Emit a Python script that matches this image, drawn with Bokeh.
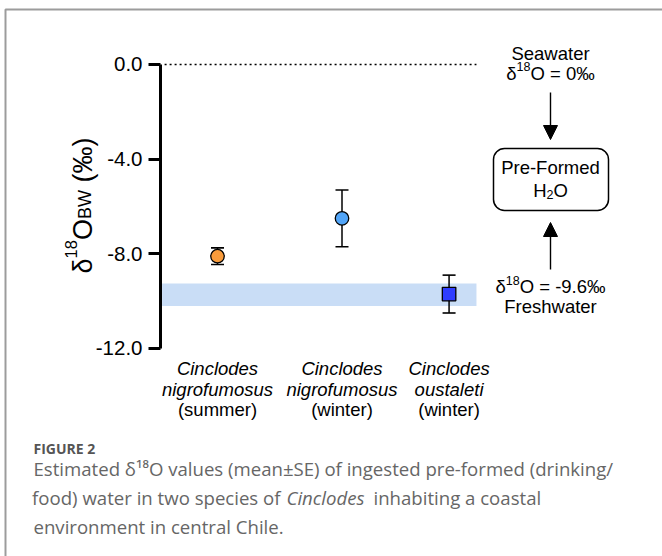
import math
from bokeh.plotting import figure
from bokeh.models import (Range1d, FixedTicker, PrintfTickFormatter, Label,
                          BoxAnnotation, Arrow, NormalHead, ColumnDataSource)
from bokeh.core.properties import value
from bokeh.embed import file_html
from bokeh.resources import INLINE

# ---------------- data ----------------
genus = ["Cinclodes", "Cinclodes", "Cinclodes"]
species = ["nigrofumosus", "nigrofumosus", "oustaleti"]
season = ["(summer)", "(winter)", "(winter)"]
x_pos = [1.0, 2.0, 2.86]
mean = [-8.1, -6.5, -9.7]
se = [0.35, 1.2, 0.8]
markers = ["circle", "circle", "square"]
colors = ["#F89B3B", "#52A5F8", "#2F3DFF"]
y_ticks = [0.0, -4.0, -8.0, -12.0]
seawater = 0.0
fresh_band = [-9.25, -10.2]
ref_x = [0.575, 3.08]
axis_x = 0.5422

# ---------------- figure ----------------
W, H = 662, 556
p = figure(width=W, height=H, output_backend="svg", toolbar_location=None,
           x_range=Range1d(-0.7430, 4.5743), y_range=Range1d(-20.789, 2.704),
           x_axis_location=None, min_border=0, tools="")
p.outline_line_color = None
p.grid.visible = False
p.background_fill_color = "white"
p.border_fill_color = "white"

ax = p.yaxis[0]
ax.fixed_location = axis_x
ax.ticker = FixedTicker(ticks=y_ticks)
ax.formatter = PrintfTickFormatter(format="%.1f")
ax.bounds = (min(y_ticks), max(y_ticks))
ax.axis_line_width = 3
ax.axis_line_color = "black"
ax.major_tick_line_width = 3
ax.major_tick_line_color = "black"
ax.major_tick_out = 12
ax.major_tick_in = 0
ax.minor_tick_line_color = None
ax.major_label_text_font = "Liberation Sans"
ax.major_label_text_font_size = "20.5px"
ax.major_label_text_color = "black"
ax.major_label_standoff = 6

FONT = "Liberation Sans"

# freshwater band & seawater line
p.quad(left=[ref_x[0] - 0.02], right=[ref_x[1]], top=[fresh_band[0]], bottom=[fresh_band[1]],
       fill_color="#C9DDF6", line_color=None)
p.line(x=ref_x, y=[seawater, seawater], line_color="black", line_width=1.6, line_dash="2 3")

lower = [m - s for m, s in zip(mean, se)]
upper = [m + s for m, s in zip(mean, se)]
src = ColumnDataSource(dict(x=x_pos, m=mean, lo=lower, hi=upper, mk=markers, c=colors,
                            g=genus, sp=species, se=season))
p.segment(x0="x", y0="lo", x1="x", y1="hi", source=src, line_color="black", line_width=1.5)
p.scatter(x="x", y="lo", source=src, marker="dash", size=13, line_color="black", line_width=1.6)
p.scatter(x="x", y="hi", source=src, marker="dash", size=13, line_color="black", line_width=1.6)
p.scatter(x="x", y="m", source=src, marker="mk", size=13.5, fill_color="c",
          line_color="black", line_width=1.3)

# category labels
for col, off, style in (("g", 20, "italic"), ("sp", 41, "italic"), ("se", 61, "normal")):
    p.text(x="x", y=-12, text=col, source=src, y_offset=off, text_align="center",
           text_baseline="alphabetic", text_font=value(FONT), text_font_size="18.5px",
           text_font_style=style, text_color="black")

# ---------------- helpers (annotation layout in page pixels) ----------------
AW = {' ': 278, '(': 333, ')': 333, '+': 584, '-': 333, '.': 278, '/': 278, '=': 584,
      '%': 889, '\u2030': 1000, '\u03b4': 556, '\u00b1': 549,
      'A': 667, 'B': 667, 'C': 722, 'D': 722, 'E': 667, 'F': 611, 'G': 778, 'H': 722,
      'I': 278, 'J': 500, 'K': 667, 'L': 556, 'M': 833, 'N': 722, 'O': 778, 'P': 667,
      'Q': 778, 'R': 722, 'S': 667, 'T': 611, 'U': 722, 'V': 667, 'W': 944, 'X': 667,
      'Y': 667, 'Z': 611, 'a': 556, 'b': 556, 'c': 500, 'd': 556, 'e': 556, 'f': 278,
      'g': 556, 'h': 556, 'i': 222, 'j': 222, 'k': 500, 'l': 222, 'm': 833, 'n': 556,
      'o': 556, 'p': 556, 'q': 556, 'r': 333, 's': 500, 't': 278, 'u': 556, 'v': 500,
      'w': 722, 'x': 500, 'y': 500, 'z': 500}


def tw(s, size):
    return sum(AW.get(c, 556) for c in s) * size / 1000.0


def sx(px):
    return px


def sy(py):
    return H - py


def lab(text, px, py, size, style="normal", color="black", font=FONT, align="left", angle=0.0):
    p.add_layout(Label(x=sx(px), y=sy(py), x_units="screen", y_units="screen", text=text,
                       text_font=font, text_font_size=f"{size}px", text_font_style=style,
                       text_color=color, text_align=align, text_baseline="alphabetic",
                       angle=angle))


def rich(segs, cx, base):
    total = sum(tw(t, s) for t, s, r in segs)
    x = cx - total / 2
    for t, s, r in segs:
        st = t.lstrip(" ")
        x += tw(t[:len(t) - len(st)], s)
        lab(st, x, base - r, s)
        x += tw(st, s)


# y-axis title (rotated)
title_segs = [("\u03b4", 27, 0), ("18", 16.5, 11.5), ("O", 27, 0), ("BW", 18, -2), (" (\u2030)", 27, 0)]
total = sum(tw(t, s) for t, s, r in title_segs)
yc = 205 + total / 2
bx = 82
for t, s, r in title_segs:
    st = t.lstrip(" ")
    yc -= tw(t[:len(t) - len(st)], s)
    lab(st, bx - r, yc, s, angle=math.pi / 2)
    yc -= tw(st, s)

# right-hand diagram
CX = 550
rich([("Seawater", 18.5, 0)], CX, 52.5)
rich([("\u03b4", 18.5, 0), ("18", 12.5, 6.5), ("O = 0\u2030", 18.5, 0)], CX, 72.5)
p.add_layout(Arrow(end=NormalHead(size=14, fill_color="black", line_color="black", line_width=1),
                   x_start=sx(CX), y_start=sy(92), x_end=sx(CX), y_end=sy(139),
                   start_units="screen", end_units="screen", line_width=1.4, line_color="black"))
p.add_layout(BoxAnnotation(left=sx(493), right=sx(608), top=sy(148), bottom=sy(210),
                           left_units="screen", right_units="screen", top_units="screen",
                           bottom_units="screen", fill_color="white", fill_alpha=1.0,
                           line_color="black", line_alpha=1.0, line_width=1.5, border_radius=11))
rich([("Pre-Formed", 18.5, 0)], CX, 166.5)
rich([("H", 18.5, 0), ("2", 12.5, -4), ("O", 18.5, 0)], CX, 190)
p.add_layout(Arrow(end=NormalHead(size=14, fill_color="black", line_color="black", line_width=1),
                   x_start=sx(CX), y_start=sy(269), x_end=sx(CX), y_end=sy(222),
                   start_units="screen", end_units="screen", line_width=1.4, line_color="black"))
rich([("\u03b4", 18.5, 0), ("18", 12.5, 6.5), ("O = -9.6\u2030", 18.5, 0)], CX, 286)
rich([("Freshwater", 18.5, 0)], CX, 306)

# outer frame (gray)
p.add_layout(BoxAnnotation(left=sx(5), right=sx(720), top=sy(9), bottom=sy(620),
                           left_units="screen", right_units="screen", top_units="screen",
                           bottom_units="screen", fill_alpha=0.0, line_color="#9c9c9c",
                           line_alpha=1.0, line_width=2))

# caption
CAP = "Open Sans"
CCOL = "#666666"
CS = 18.6
lab("FIGURE 2", 33, 447.5, 14, style="bold", color="#555555", font=CAP)
lab("Estimated \u03b4\u00b9\u2078O values (mean\u00b1SE) of ingested pre-formed (drinking/",
    33, 467.5, CS, color=CCOL, font=CAP)
lab("food) water in two species of", 280, 496.5, CS, color=CCOL, font=CAP, align="right")
lab("Cinclodes", 286, 496.5, CS, style="italic", color=CCOL, font=CAP)
lab("inhabiting a coastal", 373, 496.5, CS, color=CCOL, font=CAP)
lab("environment in central Chile.", 33, 525.5, CS, color=CCOL, font=CAP)

open("out.html", "w").write(file_html(p, INLINE))
